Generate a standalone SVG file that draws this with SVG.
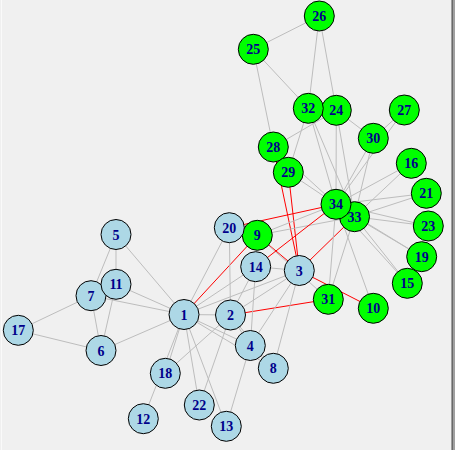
<svg xmlns="http://www.w3.org/2000/svg" width="455" height="450" viewBox="0 0 455 450">
<style>
.e{stroke:#bdbdbd;stroke-width:1;fill:none}
.r{stroke:#ff0000;stroke-width:1;fill:none}
.b circle{fill:#add8e6;stroke:#000;stroke-width:1}
.g circle{fill:#00ff00;stroke:#000;stroke-width:1}
text{font-family:"Liberation Serif","Times New Roman",serif;font-weight:bold;font-size:14px;fill:#00008b;text-anchor:middle}
</style>
<rect x="0" y="0" width="455" height="450" fill="#f0f0f0"/>
<rect x="1" y="0" width="1" height="450" fill="#fafafa"/>
<rect x="451" y="0" width="1" height="450" fill="#a0a0a0"/>
<rect x="452" y="0" width="1" height="450" fill="#696969"/>
<rect x="453" y="0" width="2" height="450" fill="#a0a0a0"/>
<g id="edges">
<line class="e" x1="184" y1="314.5" x2="230.5" y2="315"/>
<line class="e" x1="184" y1="314.5" x2="299.3" y2="270.5"/>
<line class="e" x1="184" y1="314.5" x2="250.3" y2="345.5"/>
<line class="e" x1="184" y1="314.5" x2="116" y2="234.5"/>
<line class="e" x1="184" y1="314.5" x2="101" y2="350.5"/>
<line class="e" x1="184" y1="314.5" x2="91" y2="295.7"/>
<line class="e" x1="184" y1="314.5" x2="273.3" y2="368.3"/>
<line class="r" x1="184" y1="314.5" x2="257.3" y2="235.3"/>
<line class="e" x1="184" y1="314.5" x2="116" y2="284.3"/>
<line class="e" x1="184" y1="314.5" x2="143.3" y2="418.7"/>
<line class="e" x1="184" y1="314.5" x2="226.3" y2="426.3"/>
<line class="e" x1="184" y1="314.5" x2="255.7" y2="266.7"/>
<line class="e" x1="184" y1="314.5" x2="165.3" y2="373.3"/>
<line class="e" x1="184" y1="314.5" x2="229.3" y2="227.7"/>
<line class="e" x1="184" y1="314.5" x2="199.3" y2="405"/>
<line class="e" x1="230.5" y1="315" x2="299.3" y2="270.5"/>
<line class="e" x1="230.5" y1="315" x2="250.3" y2="345.5"/>
<line class="e" x1="230.5" y1="315" x2="273.3" y2="368.3"/>
<line class="e" x1="230.5" y1="315" x2="255.7" y2="266.7"/>
<line class="e" x1="230.5" y1="315" x2="165.3" y2="373.3"/>
<line class="e" x1="230.5" y1="315" x2="229.3" y2="227.7"/>
<line class="e" x1="230.5" y1="315" x2="199.3" y2="405"/>
<line class="r" x1="230.5" y1="315" x2="328.3" y2="299.3"/>
<line class="e" x1="299.3" y1="270.5" x2="250.3" y2="345.5"/>
<line class="e" x1="299.3" y1="270.5" x2="273.3" y2="368.3"/>
<line class="r" x1="299.3" y1="270.5" x2="257.3" y2="235.3"/>
<line class="r" x1="299.3" y1="270.5" x2="373.3" y2="308.3"/>
<line class="e" x1="299.3" y1="270.5" x2="255.7" y2="266.7"/>
<line class="r" x1="299.3" y1="270.5" x2="273.3" y2="147"/>
<line class="r" x1="299.3" y1="270.5" x2="288.3" y2="172.3"/>
<line class="r" x1="299.3" y1="270.5" x2="354.5" y2="216.7"/>
<line class="e" x1="250.3" y1="345.5" x2="273.3" y2="368.3"/>
<line class="e" x1="250.3" y1="345.5" x2="226.3" y2="426.3"/>
<line class="e" x1="250.3" y1="345.5" x2="255.7" y2="266.7"/>
<line class="e" x1="116" y1="234.5" x2="91" y2="295.7"/>
<line class="e" x1="116" y1="234.5" x2="116" y2="284.3"/>
<line class="e" x1="101" y1="350.5" x2="91" y2="295.7"/>
<line class="e" x1="101" y1="350.5" x2="116" y2="284.3"/>
<line class="e" x1="101" y1="350.5" x2="18.3" y2="330.3"/>
<line class="e" x1="91" y1="295.7" x2="18.3" y2="330.3"/>
<line class="e" x1="257.3" y1="235.3" x2="328.3" y2="299.3"/>
<line class="e" x1="257.3" y1="235.3" x2="354.5" y2="216.7"/>
<line class="e" x1="257.3" y1="235.3" x2="336" y2="204.3"/>
<line class="e" x1="373.3" y1="308.3" x2="336" y2="204.3"/>
<line class="r" x1="255.7" y1="266.7" x2="336" y2="204.3"/>
<line class="e" x1="407.3" y1="283.3" x2="354.5" y2="216.7"/>
<line class="e" x1="407.3" y1="283.3" x2="336" y2="204.3"/>
<line class="e" x1="411.3" y1="163.3" x2="354.5" y2="216.7"/>
<line class="e" x1="411.3" y1="163.3" x2="336" y2="204.3"/>
<line class="e" x1="421.7" y1="256.7" x2="354.5" y2="216.7"/>
<line class="e" x1="421.7" y1="256.7" x2="336" y2="204.3"/>
<line class="r" x1="229.3" y1="227.7" x2="336" y2="204.3"/>
<line class="e" x1="426.3" y1="193.3" x2="354.5" y2="216.7"/>
<line class="e" x1="426.3" y1="193.3" x2="336" y2="204.3"/>
<line class="e" x1="428.3" y1="226" x2="354.5" y2="216.7"/>
<line class="e" x1="428.3" y1="226" x2="336" y2="204.3"/>
<line class="e" x1="336.3" y1="110.3" x2="319.3" y2="16"/>
<line class="e" x1="336.3" y1="110.3" x2="273.3" y2="147"/>
<line class="e" x1="336.3" y1="110.3" x2="373.3" y2="138.3"/>
<line class="e" x1="336.3" y1="110.3" x2="354.5" y2="216.7"/>
<line class="e" x1="336.3" y1="110.3" x2="336" y2="204.3"/>
<line class="e" x1="253.3" y1="49.3" x2="319.3" y2="16"/>
<line class="e" x1="253.3" y1="49.3" x2="273.3" y2="147"/>
<line class="e" x1="253.3" y1="49.3" x2="308.3" y2="108.3"/>
<line class="e" x1="319.3" y1="16" x2="308.3" y2="108.3"/>
<line class="e" x1="404.3" y1="110" x2="373.3" y2="138.3"/>
<line class="e" x1="404.3" y1="110" x2="336" y2="204.3"/>
<line class="e" x1="273.3" y1="147" x2="336" y2="204.3"/>
<line class="e" x1="288.3" y1="172.3" x2="308.3" y2="108.3"/>
<line class="e" x1="288.3" y1="172.3" x2="336" y2="204.3"/>
<line class="e" x1="373.3" y1="138.3" x2="354.5" y2="216.7"/>
<line class="e" x1="373.3" y1="138.3" x2="336" y2="204.3"/>
<line class="e" x1="328.3" y1="299.3" x2="354.5" y2="216.7"/>
<line class="e" x1="328.3" y1="299.3" x2="336" y2="204.3"/>
<line class="e" x1="308.3" y1="108.3" x2="354.5" y2="216.7"/>
<line class="e" x1="308.3" y1="108.3" x2="336" y2="204.3"/>
<line class="e" x1="354.5" y1="216.7" x2="336" y2="204.3"/>
</g>
<g id="n1" class="b"><circle cx="184" cy="314.5" r="15"/><text x="184" y="319.5">1</text></g>
<g id="n2" class="b"><circle cx="230.5" cy="315" r="15"/><text x="230.5" y="320">2</text></g>
<g id="n3" class="b"><circle cx="299.3" cy="270.5" r="15"/><text x="299.3" y="275.5">3</text></g>
<g id="n4" class="b"><circle cx="250.3" cy="345.5" r="15"/><text x="250.3" y="350.5">4</text></g>
<g id="n5" class="b"><circle cx="116" cy="234.5" r="15"/><text x="116" y="239.5">5</text></g>
<g id="n6" class="b"><circle cx="101" cy="350.5" r="15"/><text x="101" y="355.5">6</text></g>
<g id="n7" class="b"><circle cx="91" cy="295.7" r="15"/><text x="91" y="300.7">7</text></g>
<g id="n8" class="b"><circle cx="273.3" cy="368.3" r="15"/><text x="273.3" y="373.3">8</text></g>
<g id="n9" class="g"><circle cx="257.3" cy="235.3" r="15"/><text x="257.3" y="240.3">9</text></g>
<g id="n10" class="g"><circle cx="373.3" cy="308.3" r="15"/><text x="373.3" y="313.3">10</text></g>
<g id="n11" class="b"><circle cx="116" cy="284.3" r="15"/><text x="116" y="289.3">11</text></g>
<g id="n12" class="b"><circle cx="143.3" cy="418.7" r="15"/><text x="143.3" y="423.7">12</text></g>
<g id="n13" class="b"><circle cx="226.3" cy="426.3" r="15"/><text x="226.3" y="431.3">13</text></g>
<g id="n14" class="b"><circle cx="255.7" cy="266.7" r="15"/><text x="255.7" y="271.7">14</text></g>
<g id="n15" class="g"><circle cx="407.3" cy="283.3" r="15"/><text x="407.3" y="288.3">15</text></g>
<g id="n16" class="g"><circle cx="411.3" cy="163.3" r="15"/><text x="411.3" y="168.3">16</text></g>
<g id="n17" class="b"><circle cx="18.3" cy="330.3" r="15"/><text x="18.3" y="335.3">17</text></g>
<g id="n18" class="b"><circle cx="165.3" cy="373.3" r="15"/><text x="165.3" y="378.3">18</text></g>
<g id="n19" class="g"><circle cx="421.7" cy="256.7" r="15"/><text x="421.7" y="261.7">19</text></g>
<g id="n20" class="b"><circle cx="229.3" cy="227.7" r="15"/><text x="229.3" y="232.7">20</text></g>
<g id="n21" class="g"><circle cx="426.3" cy="193.3" r="15"/><text x="426.3" y="198.3">21</text></g>
<g id="n22" class="b"><circle cx="199.3" cy="405" r="15"/><text x="199.3" y="410">22</text></g>
<g id="n23" class="g"><circle cx="428.3" cy="226" r="15"/><text x="428.3" y="231">23</text></g>
<g id="n24" class="g"><circle cx="336.3" cy="110.3" r="15"/><text x="336.3" y="115.3">24</text></g>
<g id="n25" class="g"><circle cx="253.3" cy="49.3" r="15"/><text x="253.3" y="54.3">25</text></g>
<g id="n26" class="g"><circle cx="319.3" cy="16" r="15"/><text x="319.3" y="21">26</text></g>
<g id="n27" class="g"><circle cx="404.3" cy="110" r="15"/><text x="404.3" y="115">27</text></g>
<g id="n28" class="g"><circle cx="273.3" cy="147" r="15"/><text x="273.3" y="152">28</text></g>
<g id="n29" class="g"><circle cx="288.3" cy="172.3" r="15"/><text x="288.3" y="177.3">29</text></g>
<g id="n30" class="g"><circle cx="373.3" cy="138.3" r="15"/><text x="373.3" y="143.3">30</text></g>
<g id="n31" class="g"><circle cx="328.3" cy="299.3" r="15"/><text x="328.3" y="304.3">31</text></g>
<g id="n32" class="g"><circle cx="308.3" cy="108.3" r="15"/><text x="308.3" y="113.3">32</text></g>
<g id="n33" class="g"><circle cx="354.5" cy="216.7" r="15"/><text x="354.5" y="221.7">33</text></g>
<g id="n34" class="g"><circle cx="336" cy="204.3" r="15"/><text x="336" y="209.3">34</text></g>
</svg>
